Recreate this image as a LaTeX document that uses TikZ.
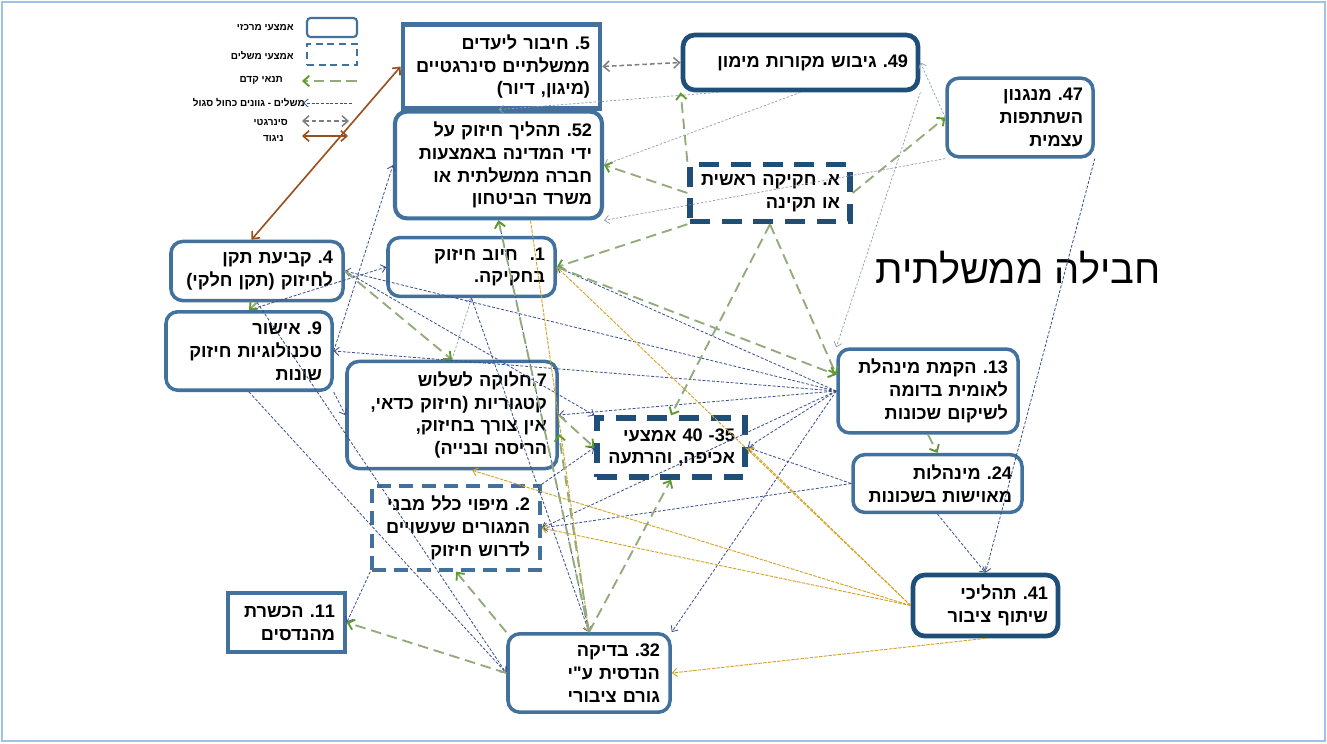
\documentclass[tikz,border=0pt]{standalone}
\usepackage{fontspec}
\setmainfont[Script=Hebrew, Ligatures=TeXOff]{Liberation Sans}
\TeXXeTstate=1
\frenchspacing
\usetikzlibrary{arrows.meta}
\definecolor{boxblue}{HTML}{41719C}
\definecolor{darkblue}{HTML}{1F4E79}
\definecolor{framebl}{HTML}{9DC3E6}
\definecolor{preqgreen}{HTML}{93AA7C}
\definecolor{tipgreen}{HTML}{5E9A2E}
\definecolor{complblue}{HTML}{3A4F8C}
\definecolor{synggrey}{HTML}{7F7F7F}
\definecolor{oppbrown}{HTML}{9C4F1E}
\definecolor{fundyellow}{HTML}{D4A52A}
\definecolor{thingrey}{HTML}{8C9BB0}
\newcommand{\heb}[1]{\mbox{\beginR #1\endR}}
\newcommand{\hnum}[1]{\beginL#1\endL}
\newcommand{\nodefont}{\fontsize{15.5}{19.5}\selectfont\bfseries}
\tikzstyle{mainbox} = [rectangle, rounded corners=10pt, draw=boxblue, line width=3pt,
align=right, inner sep=0.3cm, font=\nodefont]
\tikzstyle{keybox} = [mainbox, draw=darkblue, line width=4pt]
\tikzstyle{sqbox} = [mainbox, sharp corners]
\tikzstyle{addbox} = [mainbox, sharp corners, dash pattern=on 12pt off 7pt]
\tikzstyle{keyadd} = [addbox, draw=darkblue, line width=4.5pt, dash pattern=on 17pt off 10pt]
\tikzstyle{legend} = [font=\fontsize{8.5}{10}\selectfont\bfseries, inner sep=0pt, anchor=east]
\tikzstyle{prereq} = [draw=preqgreen, line width=1.6pt, dash pattern=on 9pt off 5pt,
-{Straight Barb[length=5pt,width=9pt,color=tipgreen]}]
\tikzstyle{compl} = [draw=complblue, line width=0.7pt, dash pattern=on 2.5pt off 1.5pt,
-{Straight Barb[length=4pt,width=7pt]}]
\tikzstyle{weak} = [draw=thingrey, line width=0.6pt, dash pattern=on 2pt off 1.5pt,
-{Straight Barb[length=4pt,width=7pt]}]
\tikzstyle{fund} = [draw=fundyellow, line width=0.8pt, dash pattern=on 3pt off 1pt,
-{Straight Barb[length=4pt,width=7pt]}]
\tikzstyle{synergy} = [draw=synggrey, line width=1.3pt, dash pattern=on 4pt off 2.5pt,
{Straight Barb[length=5pt,width=9pt]}-{Straight Barb[length=5pt,width=9pt]}]
\tikzstyle{oppose} = [draw=oppbrown, line width=1.4pt,
{Straight Barb[length=5pt,width=9pt]}-{Straight Barb[length=5pt,width=9pt]}]

\begin{document}
\begin{tikzpicture}[x=0.03cm, y=-0.03cm]
    \useasboundingbox (0,0) rectangle (1327,743);
    \draw[framebl, line width=1.5pt] (2,2) rectangle (1325,741);

    \node (lgmain) [legend] at (294,28) {\heb{אמצעי מרכזי}};
    \node (lgadd) [legend] at (294,56) {\heb{אמצעי משלים}};
    \node (lgpre) [legend] at (283,80) {\heb{תנאי קדם}};
    \node (lgcom) [legend] at (305,103) {\heb{משלים - גוונים כחול סגול}};
    \node (lgsyn) [legend] at (288,122) {\heb{סינרגטי}};
    \node (lgopp) [legend] at (284,138) {\heb{ניגוד}};
    \node (lgbox1) [rectangle, rounded corners=3pt, draw=boxblue, line width=1.8pt,
        minimum width=1.5cm, minimum height=0.57cm] at (332,27.5) {};
    \node (lgbox2) [rectangle, draw=boxblue, line width=1.8pt, dash pattern=on 6pt off 4pt,
        minimum width=1.5cm, minimum height=0.63cm] at (332,54.5) {};
    \coordinate (lgpa) at (357,81);
    \coordinate (lgpb) at (302,81);
    \coordinate (lgca) at (352,103);
    \coordinate (lgcb) at (303,103);
    \coordinate (lgsa) at (302,121);
    \coordinate (lgsb) at (349,121);
    \coordinate (lgoa) at (302,136);
    \coordinate (lgob) at (348,136);

    \node (n5) [sqbox, line width=4pt, minimum width=5.91cm, minimum height=2.19cm, text width=5.31cm]
        at (501.5,66.5) {\heb{\hnum{5}. חיבור ליעדים}\\ \heb{ממשלתיים סינרגטיים}\\ \heb{(מיגון, דיור)}};
    \node (n52) [mainbox, line width=3.5pt, minimum width=6.21cm, minimum height=2.82cm, text width=5.61cm]
        at (498.5,165) {\heb{\hnum{52}. תהליך חיזוק על}\\ \heb{ידי המדינה באמצעות}\\ \heb{חברה ממשלתית או}\\ \heb{משרד הביטחון}};
    \node (n49) [keybox, minimum width=7.05cm, minimum height=1.65cm, text width=6.45cm]
        at (800.5,62.5) {\heb{\hnum{49}. גיבוש מקורות מימון}};
    \node (n47) [mainbox, minimum width=4.38cm, minimum height=2.25cm, text width=3.78cm]
        at (1020,117.5) {\heb{\hnum{47}. מנגנון}\\ \heb{השתתפות}\\ \heb{עצמית}};
    \node (nA) [keyadd, minimum width=4.8cm, minimum height=1.5cm, text width=4.2cm]
        at (770,193) {\heb{א. חקיקה ראשית}\\ \heb{או תקינה}};
    \node (n4) [mainbox, minimum width=5.16cm, minimum height=1.56cm, text width=4.56cm]
        at (257,271) {\heb{\hnum{4}. קביעת תקן}\\ \heb{לחיזוק (תקן חלקי)}};
    \node (n1) [mainbox, minimum width=5.01cm, minimum height=1.56cm, text width=4.41cm]
        at (471.5,267) {\heb{\hnum{1}.~ חיוב חיזוק}\\ \heb{בחקיקה.}};
    \node (n9) [mainbox, minimum width=4.98cm, minimum height=1.98cm, text width=4.38cm]
        at (249,351) {\heb{\hnum{9}. אישור}\\ \heb{טכנולוגיות חיזוק}\\ \heb{שונות}};
    \node (n7) [mainbox, minimum width=6.3cm, minimum height=2.7cm, text width=5.7cm]
        at (452,415) {\heb{\hnum{7}.חלוקה לשלוש}\\ \heb{קטגוריות (חיזוק כדאי,}\\ \heb{אין צורך בחיזוק,}\\ \heb{הריסה ובנייה)}};
    \node (n35) [keyadd, minimum width=4.44cm, minimum height=1.77cm, text width=3.84cm]
        at (671,447.5) {\heb{\hnum{35}- \hnum{40} אמצעי}\\ \heb{אכיפה, והרתעה}};
    \node (n13) [mainbox, minimum width=5.4cm, minimum height=2.16cm, text width=4.8cm]
        at (928,391) {\heb{\hnum{13}. הקמת מינהלת}\\ \heb{לאומית בדומה}\\ \heb{לשיקום שכונות}};
    \node (n24) [mainbox, minimum width=5.07cm, minimum height=1.71cm, text width=4.47cm]
        at (937.5,483.5) {\heb{\hnum{24}. מינהלות}\\ \heb{מאוישות בשכונות}};
    \node (n2) [addbox, minimum width=5.04cm, minimum height=2.28cm, text width=4.44cm]
        at (456,528) {\heb{\hnum{2}. מיפוי כלל מבני}\\ \heb{המגורים שעשויים}\\ \heb{לדרוש חיזוק}};
    \node (n11) [sqbox, minimum width=3.51cm, minimum height=1.77cm, text width=2.91cm]
        at (286.5,622.5) {\heb{\hnum{11}. הכשרת}\\ \heb{מהנדסים}};
    \node (n32) [mainbox, minimum width=4.86cm, minimum height=2.34cm, text width=4.26cm]
        at (589,673) {\heb{\hnum{32}. בדיקה}\\ \heb{הנדסית ע"י}\\ \heb{גורם ציבורי}};
    \node (n41) [keybox, minimum width=4.35cm, minimum height=1.71cm, text width=3.75cm]
        at (985.5,605.5) {\heb{\hnum{41}. תהליכי}\\ \heb{שיתוף ציבור}};
    \node (title) [font=\fontsize{34}{40}\selectfont] at (1018,268) {\heb{חבילה ממשלתית}};

    \draw[prereq] (lgpa) -- (lgpb);
    \draw[compl] (lgca) -- (lgcb);
    \draw[synergy] (lgsa) -- (lgsb);
    \draw[oppose] (lgoa) -- (lgob);

    \draw[oppose] (n4.100) -- (n5.west);
    \draw[synergy] (n5.east) -- (n49.west);

    \draw[weak] (n49.200) -- (n52.north);
    \draw[weak] (n49.south) -- (n52.east);
    \draw[weak] (n47.west) -- (n49.east);
    \draw[weak] (n47.south west) -- (n52.south east);
    \draw[weak] (n49.south east) -- (n13.north west);
    \draw[weak] (n7.north) -- (n1.south);

    \draw[compl] (n13.west) -- (n4.east);
    \draw[compl] (n13.west) -- (n9.east);
    \draw[compl] (n13.west) -- (n7.east);
    \draw[compl] (n13.west) -- (n1.east);
    \draw[compl] (n13.west) -- (n35.east);
    \draw[compl] (n13.west) -- (n2.east);
    \draw[compl] (n13.west) -- (n32.north east);
    \draw[compl] (n24.west) -- (n2.east);
    \draw[compl] (n24.west) -- (n35.east);
    \draw[compl] (n24.south) -- (n41.north);
    \draw[compl] (n47.south east) -- (n41.north);
    \draw[compl] (n9.east) -- (n52.west);
    \draw[compl] (n9.north) -- (n1.west);
    \draw[compl] (n4.south) -- (n32.west);
    \draw[compl] (n9.south) -- (n32.west);
    \draw[compl] (n9.south east) -- (n7.west);
    \draw[compl] (n4.east) -- (n35.north west);
    \draw[compl] (n1.south) -- (n32.north);
    \draw[compl] (n2.north east) -- (n35.west);
    \draw[compl] (n2.south west) -- (n11.east);
    \draw[compl] (n32.north) -- (n52.south);

    \draw[fund] (n41.west) -- (n1.east);
    \draw[fund] (n41.west) -- (n7.290);
    \draw[fund] (n41.west) -- (n2.east);
    \draw[fund] (n41.west) -- (n35.east);
    \draw[fund] (n41.south) -- (n32.east);
    \draw[fund] (n52.-60) -- (n32.north);

    \draw[prereq] (nA.north west) -- (n49.south west);
    \draw[prereq] (nA.west) -- (n52.east);
    \draw[prereq] (nA.east) -- (n47.west);
    \draw[prereq] (nA.south west) -- (n1.east);
    \draw[prereq] (nA.south) -- (n35.north);
    \draw[prereq] (nA.south) -- (n13.170);
    \draw[prereq] (n1.east) -- (n13.170);
    \draw[prereq] (n4.south) -- (n9.north);
    \draw[prereq] (n4.east) -- (n7.north);
    \draw[prereq] (n13.south) -- (n24.north);
    \draw[prereq] (n7.east) -- (n35.west);
    \draw[prereq] (n32.north) -- (n35.south);
    \draw[prereq] (n32.north) -- (n7.-10);
    \draw[prereq] (n32.north west) -- (n2.south);
    \draw[prereq] (n32.west) -- (n11.east);
    \draw[prereq] (n32.north) -- (n52.south);

\end{tikzpicture}
\end{document}
